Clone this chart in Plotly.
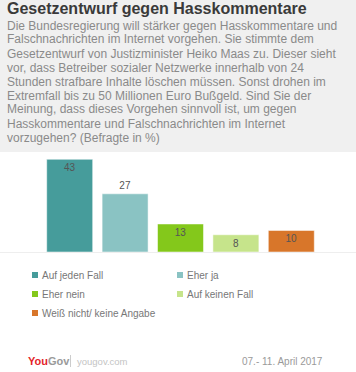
import plotly.graph_objects as go

# ---- data ----
categories = ["Auf jeden Fall", "Eher ja", "Eher nein", "Auf keinen Fall", "Weiß nicht/ keine Angabe"]
values = [43, 27, 13, 8, 10]
colors = ["#469c9b", "#8ac3c3", "#84c81b", "#c6e48b", "#d8762a"]
label_pos = ["inside", "outside", "inside", "inside", "inside"]

title = "Gesetzentwurf gegen Hasskommentare"
subtitle_lines = [
    "Die Bundesregierung will stärker gegen Hasskommentare und",
    "Falschnachrichten im Internet vorgehen. Sie stimmte dem",
    "Gesetzentwurf von Justizminister Heiko Maas zu. Dieser sieht",
    "vor, dass Betreiber sozialer Netzwerke innerhalb von 24",
    "Stunden strafbare Inhalte löschen müssen. Sonst drohen im",
    "Extremfall bis zu 50 Millionen Euro Bußgeld. Sind Sie der",
    "Meinung, dass dieses Vorgehen sinnvoll ist, um gegen",
    "Hasskommentare und Falschnachrichten im Internet",
    "vorzugehen? (Befragte in %)",
]
date_text = "07.- 11. April 2017"

W, H = 356, 372
L, R, T, B = 42, 37, 155, 120
PW, PH = W - L - R, H - T - B
FONT = "Liberation Sans, Arial, sans-serif"


def px(x):
    return (x - L) / PW


def py(y):
    return (H - B - y) / PH


fig = go.Figure()
fig.add_trace(go.Bar(
    x=categories, y=values,
    marker=dict(color=colors, line=dict(color="rgba(255,255,255,0.5)", width=1)),
    text=[str(v) for v in values],
    textposition=label_pos,
    insidetextanchor="end",
    constraintext="none",
    textfont=dict(color="#555555", size=10, family=FONT),
    showlegend=False,
    hoverinfo="skip",
    cliponaxis=False,
))

shapes = [
    # grey header
    dict(type="rect", xref="paper", yref="paper", x0=px(0), x1=px(W), y0=py(152), y1=py(-2),
         fillcolor="#f0f0f0", line=dict(width=0), layer="below"),
    # baseline
    dict(type="line", xref="paper", yref="paper", x0=px(0), x1=px(W), y0=py(252.5), y1=py(252.5),
         line=dict(color="#eeeeee", width=1), layer="below"),
]

annotations = [
    dict(text="<b>" + title + "</b>", xref="paper", yref="paper", x=px(5), y=py(8),
         xanchor="left", yanchor="middle", showarrow=False,
         font=dict(size=16, color="#3a3a3a", family=FONT)),
]
for i, line in enumerate(subtitle_lines):
    annotations.append(dict(text=line, xref="paper", yref="paper", x=px(5), y=py(25.5 + 14 * i),
                            xanchor="left", yanchor="middle", showarrow=False,
                            font=dict(size=12, color="#8a8a8a", family=FONT)))

# legend (two columns)
leg_x = [35, 180]
leg_y = [275, 294, 313]
for i, (cat, col) in enumerate(zip(categories, colors)):
    cx, cy = leg_x[i % 2], leg_y[i // 2]
    shapes.append(dict(type="rect", xref="paper", yref="paper",
                       x0=px(cx - 3), x1=px(cx + 3), y0=py(cy + 3), y1=py(cy - 3),
                       fillcolor=col, line=dict(width=0)))
    annotations.append(dict(text=cat, xref="paper", yref="paper", x=px(cx + 5), y=py(cy),
                            xanchor="left", yanchor="middle", showarrow=False,
                            font=dict(size=10, color="#777777", family=FONT)))

# footer
annotations += [
    dict(text="<b><span style='color:#e41f2a'>You</span><span style='color:#9a9a9a'>Gov</span></b>",
         xref="paper", yref="paper", x=px(26), y=py(361), xanchor="left", yanchor="middle",
         showarrow=False, font=dict(size=11, family=FONT)),
    dict(text="yougov.com", xref="paper", yref="paper", x=px(75), y=py(361), xanchor="left",
         yanchor="middle", showarrow=False, font=dict(size=9.5, color="#c4c4c4", family=FONT)),
    dict(text=date_text, xref="paper", yref="paper", x=px(325), y=py(361), xanchor="right",
         yanchor="middle", showarrow=False, font=dict(size=10, color="#9a9a9a", family=FONT)),
]
shapes.append(dict(type="line", xref="paper", yref="paper", x0=px(70.5), x1=px(70.5),
                   y0=py(355), y1=py(367), line=dict(color="#cccccc", width=1)))

fig.update_layout(
    width=W, height=H,
    margin=dict(l=L, r=R, t=T, b=B, pad=0),
    paper_bgcolor="white", plot_bgcolor="rgba(0,0,0,0)",
    bargap=0.17,
    xaxis=dict(visible=False, range=[-0.5, 4.5]),
    yaxis=dict(visible=False, range=[0, 45]),
    shapes=shapes, annotations=annotations,
    font=dict(family=FONT),
)

fig.write_html("out.html", config={"displayModeBar": False},
               post_script="document.body.style.margin='0';document.body.style.overflow='hidden';")
